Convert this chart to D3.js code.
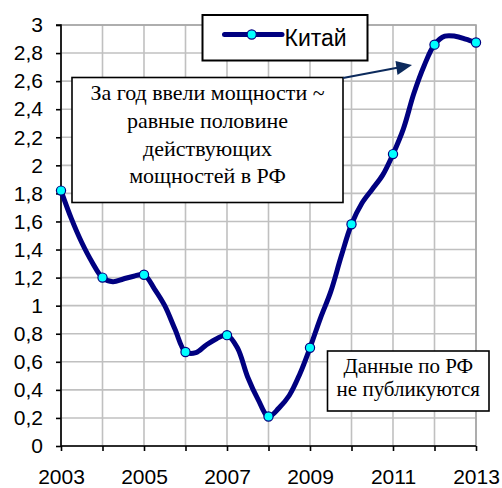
<!DOCTYPE html>
<html>
<head>
<meta charset="utf-8">
<script src="https://cdn.jsdelivr.net/npm/d3@7"></script>
<style>
  html, body { margin: 0; padding: 0; background: #fff; }
  svg { display: block; }
  .serif { font-family: "Liberation Serif", "Noto Serif", "DejaVu Serif", "FreeSerif", Tinos, "Times New Roman", Times, serif; }
</style>
</head>
<body>
<svg id="chart" width="502" height="488"></svg>
<script>
// ---- data ----
const seriesName = "Китай";
const timePoints = [
  2003, 2003.25, 2003.5, 2003.75,
  2004, 2004.25, 2004.5, 2004.75,
  2005, 2005.25, 2005.5, 2005.75,
  2006, 2006.25, 2006.5, 2006.75,
  2007, 2007.25, 2007.5, 2007.75,
  2008, 2008.25, 2008.5, 2008.75,
  2009, 2009.25, 2009.5, 2009.75,
  2010, 2010.25, 2010.5, 2010.75,
  2011, 2011.25, 2011.5, 2011.75,
  2012, 2012.25, 2012.5, 2012.75,
  2013
];
const chinaValues = [
  1.82, 1.62, 1.45, 1.31,
  1.20, 1.17, 1.19, 1.21,
  1.22, 1.12, 1.00, 0.83,
  0.67, 0.665, 0.72, 0.765,
  0.79, 0.70, 0.49, 0.33,
  0.21, 0.27, 0.36, 0.51,
  0.70, 0.91, 1.10, 1.35,
  1.58, 1.73, 1.83, 1.93,
  2.08, 2.26, 2.51, 2.71,
  2.86, 2.92, 2.92, 2.90,
  2.875
];
const yearTicks = [2003, 2004, 2005, 2006, 2007, 2008, 2009, 2010, 2011, 2012, 2013];
const yearLabels = [2003, 2005, 2007, 2009, 2011, 2013];
const valueTicks = [0, 0.2, 0.4, 0.6, 0.8, 1, 1.2, 1.4, 1.6, 1.8, 2, 2.2, 2.4, 2.6, 2.8, 3];
const note1Lines = ["За год ввели мощности ~", "равные половине", "действующих", "мощностей в РФ"];
const note2Lines = ["Данные по РФ", "не публикуются"];

// ---- layout ----
const svg = d3.select("#chart");
const plot = { left: 61, right: 476, top: 25, bottom: 446 };
const x = d3.scaleLinear().domain([2003, 2013]).range([plot.left, plot.right]);
const y = d3.scaleLinear().domain([0, 3]).range([plot.bottom, plot.top]);
const sans = "'Liberation Sans', Arial, sans-serif";

const points = timePoints.map((t, i) => ({ t, v: chinaValues[i] }));
const markers = points.filter(p => Number.isInteger(p.t));

// grid
const grid = svg.append("g");
grid.selectAll("line.h").data(valueTicks).join("line")
  .attr("x1", plot.left).attr("x2", plot.right)
  .attr("y1", d => y(d)).attr("y2", d => y(d))
  .attr("stroke", "#c0c0c0").attr("stroke-width", 1.6);
grid.selectAll("line.v").data(yearTicks).join("line")
  .attr("y1", plot.top).attr("y2", plot.bottom)
  .attr("x1", d => x(d)).attr("x2", d => x(d))
  .attr("stroke", "#c0c0c0").attr("stroke-width", 1.6);
svg.append("rect")
  .attr("x", plot.left).attr("y", plot.top)
  .attr("width", plot.right - plot.left).attr("height", plot.bottom - plot.top)
  .attr("fill", "none").attr("stroke", "#a6a6a6").attr("stroke-width", 1.6);

// axes
const fmt = d => String(+d.toFixed(1)).replace(".", ",");
const yAxis = svg.append("g")
  .attr("transform", `translate(${plot.left},0)`)
  .call(d3.axisLeft(y).tickValues(valueTicks).tickFormat(fmt).tickSize(5).tickPadding(13));
const xAxis = svg.append("g")
  .attr("transform", `translate(0,${plot.bottom})`)
  .call(d3.axisBottom(x).tickValues(yearTicks)
    .tickFormat(d => yearLabels.includes(d) ? String(d) : "")
    .tickSize(5).tickPadding(18));
[yAxis, xAxis].forEach(a => {
  a.select(".domain").attr("stroke", "#000").attr("stroke-width", 1.6);
  a.selectAll(".tick line").attr("stroke", "#000").attr("stroke-width", 1.6);
  a.selectAll(".tick text").attr("fill", "#000")
    .attr("font-family", sans).attr("font-size", 21);
});
yAxis.select(".domain").attr("d", `M-5,${plot.top}H0V${plot.bottom}`);
xAxis.select(".domain").attr("d", `M${plot.left},0H${plot.right}`);

// series line
const line = d3.line().x(d => x(d.t)).y(d => y(d.v)).curve(d3.curveCatmullRom.alpha(0.5));
svg.append("path").datum(points)
  .attr("d", line)
  .attr("fill", "none").attr("stroke", "#000080")
  .attr("stroke-width", 5).attr("stroke-linejoin", "round").attr("stroke-linecap", "round");
svg.selectAll("circle.m").data(markers).join("circle")
  .attr("cx", d => x(d.t)).attr("cy", d => y(d.v)).attr("r", 4.6)
  .attr("fill", "#00ffff").attr("stroke", "#000080").attr("stroke-width", 1.2);

// annotation 1 with arrow
const n1 = svg.append("g");
n1.append("rect").attr("x", 72).attr("y", 77.5).attr("width", 271).attr("height", 125)
  .attr("fill", "#fff").attr("stroke", "#000").attr("stroke-width", 1.6);
n1.selectAll("text").data(note1Lines).join("text")
  .attr("class", "serif")
  .attr("x", 207.5).attr("y", (d, i) => 100 + i * 27.8)
  .attr("text-anchor", "middle")
  .attr("font-size", 22).attr("fill", "#000")
  .text(d => d);
const arrowColor = "#0c2a5c";
svg.append("line").attr("x1", 343).attr("y1", 78).attr("x2", 400).attr("y2", 67.3)
  .attr("stroke", arrowColor).attr("stroke-width", 2);
svg.append("path")
  .attr("d", "M412,65 L395.5,61 L397.5,75 Z")
  .attr("fill", arrowColor);

// annotation 2
const n2 = svg.append("g");
n2.append("rect").attr("x", 327.5).attr("y", 351).attr("width", 161.5).attr("height", 60)
  .attr("fill", "#fff").attr("stroke", "#000").attr("stroke-width", 1.6);
n2.selectAll("text").data(note2Lines).join("text")
  .attr("class", "serif")
  .attr("x", 408.3).attr("y", (d, i) => 372.5 + i * 23)
  .attr("text-anchor", "middle")
  .attr("font-size", 21).attr("fill", "#000")
  .text(d => d);

// legend
const lg = svg.append("g");
lg.append("rect").attr("x", 202.5).attr("y", 15).attr("width", 165).attr("height", 45.5)
  .attr("fill", "#fff").attr("stroke", "#000").attr("stroke-width", 2);
lg.append("line").attr("x1", 224.5).attr("x2", 282).attr("y1", 34.5).attr("y2", 34.5)
  .attr("stroke", "#000080").attr("stroke-width", 5).attr("stroke-linecap", "round");
lg.append("circle").attr("cx", 251.7).attr("cy", 34.5).attr("r", 4.6)
  .attr("fill", "#00ffff").attr("stroke", "#000080").attr("stroke-width", 1.2);
lg.append("text").attr("x", 284.5).attr("y", 46)
  .attr("font-family", sans).attr("font-size", 23).attr("fill", "#000")
  .text(seriesName);
</script>
</body>
</html>
